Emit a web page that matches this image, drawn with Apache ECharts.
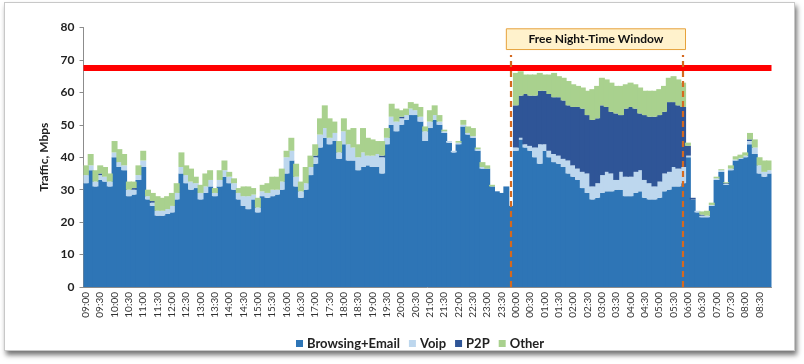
<!DOCTYPE html>
<html>
<head>
<meta charset="utf-8">
<script src="https://cdn.jsdelivr.net/npm/echarts@6/dist/echarts.min.js"></script>
<style>
html,body{margin:0;padding:0;background:#fff;width:804px;height:364px;overflow:hidden;}
#frame{position:absolute;left:4px;top:2px;width:789px;height:347px;border:1px solid #c8c8c8;background:#fff;box-shadow:2px 4px 5px rgba(0,0,0,0.55);}
#chart{width:789px;height:347px;}
</style>
</head>
<body>
<div id="frame"><div id="chart"></div></div>
<script>
// 10-minute slots from 09:00 to 08:50 next day
const categories = [];
for (let i = 0; i < 144; i++) {
  const m = (9 * 60 + i * 10) % (24 * 60);
  const h = Math.floor(m / 60), mm = m % 60;
  categories.push((h < 10 ? '0' : '') + h + ':' + (mm < 10 ? '0' : '') + mm);
}

const browsing = [
  32,36,31,33,32.5,31,40,37,36,28,28.5,33,
  37,27,25,22,22,22.5,23,27,35,32,30,30.5,
  27,29,31,28,31,34,32,30,27,25,24,27,
  23,28,27.5,28,28.5,30,35,39,31,27.5,30,34.5,
  38,43,46,44,45,39.5,44,39,39,36,37,37.5,
  37,37,35,44,50,48,50,51.5,53,53,51,45,
  49,51.5,50,47.5,44.5,41.5,44,49.5,47,46,42,36.5,
  36.5,31,29.5,29,31,25,
  42,45.5,43,42,40,38,42,40,38.5,38,37,35,
  34,33,30.5,29,27,27.5,29,29.5,29.5,30,30,28,
  28,29,29.5,27.5,27,27,27.5,29.5,30,31,31,32,
  40,27,23,21.5,21.5,25,33,35.5,31.5,36,39,39.5,
  40,44,41,35,34,35
];
const voip = [
  2.5,1.5,1.5,1.5,1.5,1.5,1.5,1.5,1.5,2,1.5,1.5,
  2,1,1,1.5,1.5,1.5,2,2,2,2.5,2.5,1.5,
  2,2,2,1,2,2,2,2,2,3,4,1.5,
  1.5,1.5,1.5,2,1.5,2.5,5,3,3,2,2,2.5,
  2,4,3,2,2.5,2,4,5,4,4,4.5,3,
  3.5,4,5,2,2.5,3,2,1.5,2,1.5,1.5,3,
  2,1.5,1,0.5,0.5,0.5,0.5,0.5,0.5,0.5,0.5,0.5,
  0,0,0,0,0,0,
  1,0.5,1,1.5,3,6,2,2,2.5,2.5,2.5,4,
  3.5,3.5,5,6,4,4.5,5.5,6,5.5,3,5.5,6,
  6,6.5,6.5,5.5,5,4,5,5.5,5.5,6,5.5,5,
  0.5,0,0.5,0.5,0.5,0.3,0.5,0.5,0.3,0.5,0.3,0.3,
  0.5,1,2,2.5,1.5,1
];
const p2p = [
  0,0,0,0.5,0,0,0,0,0,0,0.5,0,
  0,0,0.5,0,0,0,0,0,0,0,0,0,
  0,0,0,0,0,0,0,0,0,0,0,0,
  0,0,0,0,0,0,0,0,0,0,0,0,
  0.5,0,0,0,0,0,0,0,0,0,0,0,
  0,0,0.5,0,0,0,0.5,0,0,0,0,0,
  0,0,0,0,0,0,0,0,0,0,0,0,
  0,0,0,0,0,0,
  13,13,15.5,15.5,16,16.5,16.5,17.5,17.5,18,18,17,
  18,19,19.5,18,20.5,20,21.5,20,19,20.5,17.5,21,
  21.5,19.5,17.5,20,20.5,21.5,20.5,19,21.5,20,19.5,18.5,
  3,0.5,0,0.3,0,0,0,0,0.2,0,0,0,
  0,0.5,0,0,0,0
];
const other = [
  3,3.5,3.5,2.5,3,2.5,3.5,4,3.5,2.5,2,3,
  3,2,2.5,4.5,4,4,4,3,4.5,3,4,2,
  2.5,4,3,1.5,3,3,1.5,1.5,1.5,3,3,2,
  3,2,3,4,4,4,2,4,4,3,5,3.5,
  3.5,5,7,6,3.5,3.5,4,4.5,6,4,7.5,5.5,
  5,4,4.5,3,4,4,2,2,2,2,3,1.5,
  3.5,3,2,0.5,0,0,0.5,1.5,2,2.5,0.5,1.5,
  1,0.5,0,0,0,0,
  10,7.5,6,6.5,6.5,5.5,5,6,7.5,6.5,7,7.5,
  7,6.5,6.5,7.5,9.5,10,8.5,8.5,9,8.5,9,7.5,
  7.5,7.5,8,7.5,8,8,8,8,7.5,8,8,7.5,
  1,0,0,1,1.5,0.7,0.5,0.3,0.3,1,1,1,
  1,2,2.5,2.5,3.5,3
];

const seriesNames = ['Browsing+Email', 'Voip', 'P2P', 'Other'];
const seriesColors = ['#2E75B6', '#BDD7EE', '#2F5597', '#A9D18E'];
const seriesData = [browsing, voip, p2p, other];

const capLimit = 67.5;
const windowStart = '23:50';
const windowEnd = '05:50';
const windowLabel = 'Free Night-Time Window';

const chart = echarts.init(document.getElementById('chart'), null, {renderer: 'canvas'});

const series = seriesData.map((d, i) => ({
  name: seriesNames[i],
  type: 'bar',
  stack: 'total',
  data: d,
  barWidth: '125%',
  itemStyle: {color: seriesColors[i], borderWidth: 0},
  emphasis: {disabled: true},
  animation: false
}));
series[3].markLine = {
  silent: true,
  symbol: ['none', 'none'],
  label: {show: false},
  animation: false,
  data: [
    {yAxis: capLimit, lineStyle: {color: '#FF0000', width: 6, type: 'solid'}},
    [{coord: [windowStart, 0], lineStyle: {color: '#D5691F', width: 2.2, type: [6, 4]}}, {coord: [windowStart, 71.5]}],
    [{coord: [windowEnd, 0], lineStyle: {color: '#D5691F', width: 2.2, type: [6, 4]}}, {coord: [windowEnd, 71.5]}]
  ]
};
series[3].markArea = {
  silent: true,
  animation: false,
  data: [[
    {name: windowLabel, coord: [windowStart, 73.2],
     itemStyle: {color: '#FFF2CC', borderColor: '#E6A23C', borderWidth: 1},
     label: {show: true, position: 'inside', fontWeight: 'bold', fontSize: 12, color: '#111', fontFamily: 'Lato'}},
    {coord: [windowEnd, 79.6]}
  ]]
};

const option = {
  animation: false,
  backgroundColor: '#fff',
  textStyle: {fontFamily: 'Lato'},
  grid: {left: 78.5, top: 24.5, width: 688, height: 259.5},
  legend: {
    data: seriesNames,
    left: 291, top: 334, padding: 0,
    itemWidth: 7, itemHeight: 7, itemGap: 9,
    icon: 'rect',
    textStyle: {fontWeight: 'bold', fontSize: 13, color: '#222', fontFamily: 'Lato', padding: [0, 0, 0, -1]}
  },
  xAxis: {
    type: 'category',
    data: categories,
    boundaryGap: true,
    axisLine: {lineStyle: {color: '#8c8c8c'}},
    axisTick: {interval: 2, length: 4, lineStyle: {color: '#8c8c8c'}},
    axisLabel: {interval: 2, rotate: 90, fontSize: 10, color: '#333', margin: 5}
  },
  yAxis: {
    type: 'value', min: 0, max: 80, interval: 10,
    name: 'Traffic, Mbps', nameLocation: 'middle', nameGap: 31,
    nameTextStyle: {fontWeight: 'bold', fontSize: 12, color: '#222'},
    axisLine: {show: true, lineStyle: {color: '#8c8c8c'}},
    axisTick: {show: true, length: 4, lineStyle: {color: '#8c8c8c'}},
    splitLine: {show: false},
    axisLabel: {fontWeight: 'bold', fontSize: 12, color: '#222', margin: 9}
  },
  series: series
};
chart.setOption(option);
</script>
</body>
</html>
